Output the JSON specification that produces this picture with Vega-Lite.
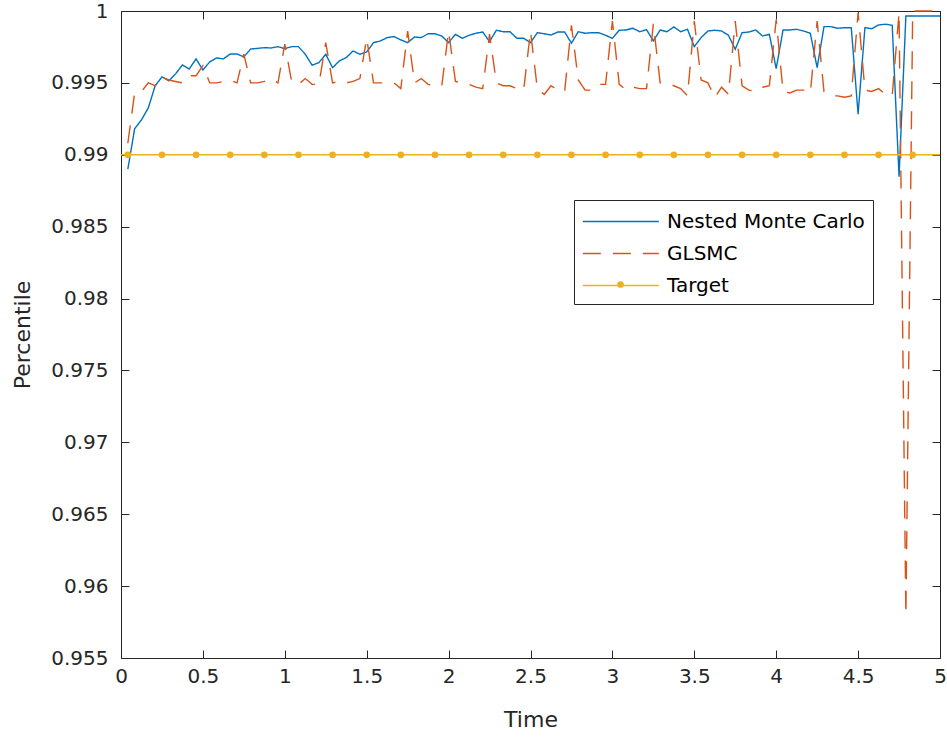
{
"$schema":"https://vega.github.io/schema/vega-lite/v6.json",
"width":819,"height":647,
"autosize":{"type":"none"},
"padding":{"left":121,"top":11,"right":7,"bottom":79},
"background":"white",
"config":{"view":{"stroke":null},"font":"DejaVu Sans",
 "axis":{"grid":false,"domainColor":"#262626","tickColor":"#262626","labelColor":"#262626","titleColor":"#262626","labelFont":"DejaVu Sans","titleFont":"DejaVu Sans","labelFontSize":20,"titleFontSize":22,"titleFontWeight":"normal","domainWidth":1,"tickWidth":1,"tickSize":-8,"labelFlush":false,"labelOverlap":false}},
"data":{"values":[
{"t":0,"target":0.99},
{"t":0.0417,"nmc":0.9890,"glsmc":0.9908,"target":0.99},
{"t":0.0833,"nmc":0.99181,"glsmc":0.9943,"target":0.99},
{"t":0.125,"nmc":0.99243,"glsmc":0.9944,"target":0.99},
{"t":0.1667,"nmc":0.99326,"glsmc":0.9950,"target":0.99},
{"t":0.2083,"nmc":0.99479,"glsmc":0.9948,"target":0.99},
{"t":0.25,"nmc":0.99542,"glsmc":0.9954,"target":0.99},
{"t":0.2917,"nmc":0.99514,"glsmc":0.9952,"target":0.99},
{"t":0.3333,"nmc":0.99563,"glsmc":0.9951,"target":0.99},
{"t":0.375,"nmc":0.99625,"glsmc":0.9950,"target":0.99},
{"t":0.4167,"nmc":0.99597,"glsmc":0.9955,"target":0.99},
{"t":0.4583,"nmc":0.99667,"glsmc":0.9955,"target":0.99},
{"t":0.5,"nmc":0.99590,"glsmc":0.9962,"target":0.99},
{"t":0.5417,"nmc":0.99646,"glsmc":0.9950,"target":0.99},
{"t":0.5833,"nmc":0.99674,"glsmc":0.9950,"target":0.99},
{"t":0.625,"nmc":0.99667,"glsmc":0.9951,"target":0.99},
{"t":0.6667,"nmc":0.99701,"glsmc":0.9952,"target":0.99},
{"t":0.7083,"nmc":0.99701,"glsmc":0.9950,"target":0.99},
{"t":0.75,"nmc":0.99681,"glsmc":0.9970,"target":0.99},
{"t":0.7917,"nmc":0.99736,"glsmc":0.9950,"target":0.99},
{"t":0.8333,"nmc":0.99740,"glsmc":0.9950,"target":0.99},
{"t":0.875,"nmc":0.99745,"glsmc":0.9951,"target":0.99},
{"t":0.9167,"nmc":0.99743,"glsmc":0.9953,"target":0.99},
{"t":0.9583,"nmc":0.99752,"glsmc":0.9950,"target":0.99},
{"t":1,"nmc":0.99738,"glsmc":0.9977,"target":0.99},
{"t":1.0417,"nmc":0.99752,"glsmc":0.9951,"target":0.99},
{"t":1.0833,"nmc":0.99752,"glsmc":0.9949,"target":0.99},
{"t":1.125,"nmc":0.99699,"glsmc":0.9953,"target":0.99},
{"t":1.1667,"nmc":0.99623,"glsmc":0.9949,"target":0.99},
{"t":1.2083,"nmc":0.99641,"glsmc":0.9949,"target":0.99},
{"t":1.25,"nmc":0.99699,"glsmc":0.9978,"target":0.99},
{"t":1.2917,"nmc":0.99606,"glsmc":0.9950,"target":0.99},
{"t":1.3333,"nmc":0.99653,"glsmc":0.9951,"target":0.99},
{"t":1.375,"nmc":0.99676,"glsmc":0.9950,"target":0.99},
{"t":1.4167,"nmc":0.99722,"glsmc":0.9951,"target":0.99},
{"t":1.4583,"nmc":0.99699,"glsmc":0.9953,"target":0.99},
{"t":1.5,"nmc":0.99715,"glsmc":0.9981,"target":0.99},
{"t":1.5417,"nmc":0.99780,"glsmc":0.9950,"target":0.99},
{"t":1.5833,"nmc":0.99792,"glsmc":0.9950,"target":0.99},
{"t":1.625,"nmc":0.99815,"glsmc":0.9950,"target":0.99},
{"t":1.6667,"nmc":0.99822,"glsmc":0.9950,"target":0.99},
{"t":1.7083,"nmc":0.99799,"glsmc":0.9946,"target":0.99},
{"t":1.75,"nmc":0.99780,"glsmc":0.9986,"target":0.99},
{"t":1.7917,"nmc":0.99819,"glsmc":0.9950,"target":0.99},
{"t":1.8333,"nmc":0.99815,"glsmc":0.9953,"target":0.99},
{"t":1.875,"nmc":0.99842,"glsmc":0.9949,"target":0.99},
{"t":1.9167,"nmc":0.99842,"glsmc":0.9948,"target":0.99},
{"t":1.9583,"nmc":0.99826,"glsmc":0.9948,"target":0.99},
{"t":2,"nmc":0.99780,"glsmc":0.9986,"target":0.99},
{"t":2.0417,"nmc":0.99838,"glsmc":0.9951,"target":0.99},
{"t":2.0833,"nmc":0.99810,"glsmc":0.9950,"target":0.99},
{"t":2.125,"nmc":0.99831,"glsmc":0.9949,"target":0.99},
{"t":2.1667,"nmc":0.99845,"glsmc":0.9947,"target":0.99},
{"t":2.2083,"nmc":0.99854,"glsmc":0.9946,"target":0.99},
{"t":2.25,"nmc":0.99787,"glsmc":0.9984,"target":0.99},
{"t":2.2917,"nmc":0.99866,"glsmc":0.9950,"target":0.99},
{"t":2.3333,"nmc":0.99856,"glsmc":0.9948,"target":0.99},
{"t":2.375,"nmc":0.99856,"glsmc":0.9948,"target":0.99},
{"t":2.4167,"nmc":0.99810,"glsmc":0.9946,"target":0.99},
{"t":2.4583,"nmc":0.99810,"glsmc":0.9945,"target":0.99},
{"t":2.5,"nmc":0.99780,"glsmc":0.9986,"target":0.99},
{"t":2.5417,"nmc":0.99849,"glsmc":0.9946,"target":0.99},
{"t":2.5833,"nmc":0.99842,"glsmc":0.9942,"target":0.99},
{"t":2.625,"nmc":0.99833,"glsmc":0.9948,"target":0.99},
{"t":2.6667,"nmc":0.99854,"glsmc":0.9945,"target":0.99},
{"t":2.7083,"nmc":0.99854,"glsmc":0.9944,"target":0.99},
{"t":2.75,"nmc":0.99776,"glsmc":0.9990,"target":0.99},
{"t":2.7917,"nmc":0.99856,"glsmc":0.9952,"target":0.99},
{"t":2.8333,"nmc":0.99845,"glsmc":0.9945,"target":0.99},
{"t":2.875,"nmc":0.99849,"glsmc":0.9945,"target":0.99},
{"t":2.9167,"nmc":0.99849,"glsmc":0.9949,"target":0.99},
{"t":2.9583,"nmc":0.99831,"glsmc":0.9949,"target":0.99},
{"t":3,"nmc":0.99810,"glsmc":0.9993,"target":0.99},
{"t":3.0417,"nmc":0.99866,"glsmc":0.9949,"target":0.99},
{"t":3.0833,"nmc":0.99868,"glsmc":0.9945,"target":0.99},
{"t":3.125,"nmc":0.99880,"glsmc":0.9947,"target":0.99},
{"t":3.1667,"nmc":0.99856,"glsmc":0.9946,"target":0.99},
{"t":3.2083,"nmc":0.99870,"glsmc":0.9946,"target":0.99},
{"t":3.25,"nmc":0.99792,"glsmc":0.9991,"target":0.99},
{"t":3.2917,"nmc":0.99868,"glsmc":0.9950,"target":0.99},
{"t":3.3333,"nmc":0.99856,"glsmc":0.9950,"target":0.99},
{"t":3.375,"nmc":0.99889,"glsmc":0.9948,"target":0.99},
{"t":3.4167,"nmc":0.99856,"glsmc":0.9946,"target":0.99},
{"t":3.4583,"nmc":0.99873,"glsmc":0.9941,"target":0.99},
{"t":3.5,"nmc":0.99752,"glsmc":0.9993,"target":0.99},
{"t":3.5417,"nmc":0.99815,"glsmc":0.9952,"target":0.99},
{"t":3.5833,"nmc":0.99861,"glsmc":0.9950,"target":0.99},
{"t":3.625,"nmc":0.99866,"glsmc":0.9940,"target":0.99},
{"t":3.6667,"nmc":0.99861,"glsmc":0.9947,"target":0.99},
{"t":3.7083,"nmc":0.99831,"glsmc":0.9942,"target":0.99},
{"t":3.75,"nmc":0.99734,"glsmc":0.9993,"target":0.99},
{"t":3.7917,"nmc":0.99849,"glsmc":0.9948,"target":0.99},
{"t":3.8333,"nmc":0.99854,"glsmc":0.9945,"target":0.99},
{"t":3.875,"nmc":0.99868,"glsmc":0.9944,"target":0.99},
{"t":3.9167,"nmc":0.99826,"glsmc":0.9947,"target":0.99},
{"t":3.9583,"nmc":0.99838,"glsmc":0.9948,"target":0.99},
{"t":4,"nmc":0.99599,"glsmc":0.9994,"target":0.99},
{"t":4.0417,"nmc":0.99868,"glsmc":0.9944,"target":0.99},
{"t":4.0833,"nmc":0.99868,"glsmc":0.9943,"target":0.99},
{"t":4.125,"nmc":0.99873,"glsmc":0.9945,"target":0.99},
{"t":4.1667,"nmc":0.99861,"glsmc":0.9945,"target":0.99},
{"t":4.2083,"nmc":0.99845,"glsmc":0.9943,"target":0.99},
{"t":4.25,"nmc":0.99606,"glsmc":0.9993,"target":0.99},
{"t":4.2917,"nmc":0.99891,"glsmc":0.9944,"target":0.99},
{"t":4.3333,"nmc":0.99891,"glsmc":0.9941,"target":0.99},
{"t":4.375,"nmc":0.99880,"glsmc":0.9941,"target":0.99},
{"t":4.4167,"nmc":0.99884,"glsmc":0.9940,"target":0.99},
{"t":4.4583,"nmc":0.99884,"glsmc":0.9941,"target":0.99},
{"t":4.5,"nmc":0.99283,"glsmc":0.9999,"target":0.99},
{"t":4.5417,"nmc":0.99884,"glsmc":0.9945,"target":0.99},
{"t":4.5833,"nmc":0.99877,"glsmc":0.9944,"target":0.99},
{"t":4.625,"nmc":0.99903,"glsmc":0.9946,"target":0.99},
{"t":4.6667,"nmc":0.99908,"glsmc":0.9942,"target":0.99},
{"t":4.7083,"nmc":0.99901,"glsmc":0.9941,"target":0.99},
{"t":4.75,"nmc":0.98847,"glsmc":0.9999,"target":0.99},
{"t":4.7917,"nmc":0.99965,"glsmc":0.9580,"target":0.99},
{"t":4.8333,"nmc":0.99965,"glsmc":1,"target":0.99},
{"t":4.875,"nmc":0.99965,"glsmc":1,"target":0.99},
{"t":4.9167,"nmc":0.99965,"glsmc":1,"target":0.99},
{"t":4.9583,"nmc":0.99965,"glsmc":1,"target":0.99},
{"t":5,"nmc":0.99965,"glsmc":1,"target":0.99}
]},
"layer":[
 {"transform":[{"fold":["nmc","glsmc","target"],"as":["series","value"]}],
  "mark":{"type":"line","strokeWidth":1.4},
  "encoding":{
   "x":{"field":"t","type":"quantitative","scale":{"domain":[0,5],"nice":false},
        "axis":{"orient":"bottom","title":"Time","values":[0,0.5,1,1.5,2,2.5,3,3.5,4,4.5,5],"format":".1~f","labelPadding":16,"titlePadding":23}},
   "y":{"field":"value","type":"quantitative","scale":{"domain":[0.955,1],"nice":false,"zero":false},
        "axis":{"orient":"left","title":"Percentile","values":[0.955,0.96,0.965,0.97,0.975,0.98,0.985,0.99,0.995,1],"format":".3~f","labelPadding":21,"titlePadding":16}},
   "color":{"field":"series","type":"nominal","scale":{"domain":["nmc","glsmc","target"],"range":["#0072BD","#D95319","#EDB120"]},
        "legend":{"title":null,"orient":"none","legendX":453,"legendY":189,"symbolType":"M-1,0H5","symbolSize":642,"symbolStrokeWidth":1.4,"labelFontSize":20,"labelLimit":400,"labelColor":"#000000","labelFont":"DejaVu Sans","fillColor":"white","strokeColor":"#262626","padding":8,"rowPadding":8,"labelOffset":58,
          "labelExpr":"datum.label == 'nmc' ? 'Nested Monte Carlo' : datum.label == 'glsmc' ? 'GLSMC' : 'Target'"}},
   "strokeDash":{"field":"series","type":"nominal","scale":{"domain":["nmc","glsmc","target"],"range":[[1,0],[18,12],[1,0]]},
        "legend":{"title":null,"orient":"none","legendX":453,"legendY":189,"symbolType":"M-1,0H5","symbolSize":642,"symbolStrokeWidth":1.4,"labelFontSize":20,"labelLimit":400,"labelColor":"#000000","labelFont":"DejaVu Sans","fillColor":"white","strokeColor":"#262626","padding":8,"rowPadding":8,"labelOffset":58,
          "labelExpr":"datum.label == 'nmc' ? 'Nested Monte Carlo' : datum.label == 'glsmc' ? 'GLSMC' : 'Target'"}}
  }},
 {"transform":[{"filter":"round(datum.t*24) % 5 == 1"}],
  "mark":{"type":"point","filled":true,"color":"#EDB120","size":45,"opacity":1},
  "encoding":{
   "x":{"field":"t","type":"quantitative","axis":{"orient":"top","title":null,"labels":false,"values":[0,0.5,1,1.5,2,2.5,3,3.5,4,4.5,5]}},
   "y":{"field":"target","type":"quantitative","axis":{"orient":"right","title":null,"labels":false,"values":[0.955,0.96,0.965,0.97,0.975,0.98,0.985,0.99,0.995,1]}},
   "shape":{"datum":"targetdot","scale":{"domain":["targetdot"],"range":["circle"]},
        "legend":{"title":null,"orient":"none","legendX":496,"legendY":270,"padding":0,"symbolSize":45,"symbolFillColor":"#EDB120","symbolStrokeColor":"#EDB120","symbolStrokeWidth":0,"labelExpr":"''","labelFontSize":1}}
  }}
],
"resolve":{"axis":{"x":"independent","y":"independent"}}
}
